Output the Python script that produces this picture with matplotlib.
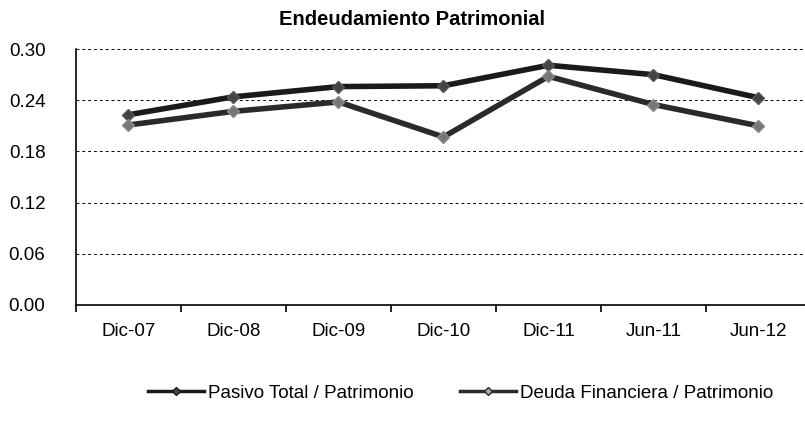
import numpy as np
import matplotlib.pyplot as plt
from matplotlib.lines import Line2D

plt.rcParams['font.family'] = ['Liberation Sans', 'DejaVu Sans']
plt.rcParams['axes.linewidth'] = 1.2

# Data
periodos = ['Dic-07', 'Dic-08', 'Dic-09', 'Dic-10', 'Dic-11', 'Jun-11', 'Jun-12']
pasivo_total = [0.223, 0.244, 0.256, 0.257, 0.281, 0.270, 0.243]
deuda_financiera = [0.211, 0.227, 0.238, 0.197, 0.268, 0.235, 0.210]
y_ticks = [0.00, 0.06, 0.12, 0.18, 0.24, 0.30]

fig = plt.figure(figsize=(8.05, 4.23), dpi=100)
ax = fig.add_axes([0.0944, 0.279, 0.913, 0.605])

x = np.arange(len(periodos))
ax.plot(x, pasivo_total, color='#1a1a1a', lw=4, marker='D', ms=6,
        mfc='#444444', mec='#555555', zorder=3)
ax.plot(x, deuda_financiera, color='#2a2a2a', lw=4, marker='D', ms=6,
        mfc='#777777', mec='#888888', zorder=3)

ax.set_xlim(-0.5, len(periodos) - 0.5)
ax.set_ylim(0, 0.30)
ax.set_yticks(y_ticks)
ax.set_yticklabels([f'{v:.2f}' for v in y_ticks], fontsize=13.5)
ax.set_xticks(x)
ax.set_xticklabels(periodos, fontsize=13.5)
ax.set_xticks(np.arange(len(periodos) + 1) - 0.5, minor=True)
ax.tick_params(axis='x', which='major', length=0, pad=13)
ax.tick_params(axis='x', which='minor', length=5, direction='out', width=1.2)
ax.tick_params(axis='y', length=0, pad=22)

ax.grid(axis='y', color='black', ls=(0, (3, 3)), lw=0.7)
ax.spines['top'].set_visible(False)
ax.spines['right'].set_visible(False)

fig.text(0.512, 0.955, 'Endeudamiento Patrimonial', ha='center', va='center',
         fontsize=14.5, fontweight='bold')

h1 = Line2D([], [], color='#1a1a1a', lw=2.5, marker='D', ms=4, mfc='#444444')
h2 = Line2D([], [], color='#2a2a2a', lw=2.5, marker='D', ms=4, mfc='#aaaaaa')
fig.legend([h1], ['Pasivo Total / Patrimonio'], loc='center left',
           bbox_to_anchor=(0.184, 0.07), frameon=False, fontsize=13.5,
           handlelength=3.0, handletextpad=0.2, borderpad=0, borderaxespad=0)
fig.legend([h2], ['Deuda Financiera / Patrimonio'], loc='center left',
           bbox_to_anchor=(0.571, 0.07), frameon=False, fontsize=13.5,
           handlelength=3.0, handletextpad=0.2, borderpad=0, borderaxespad=0)

fig.savefig('out.png', dpi=100)
